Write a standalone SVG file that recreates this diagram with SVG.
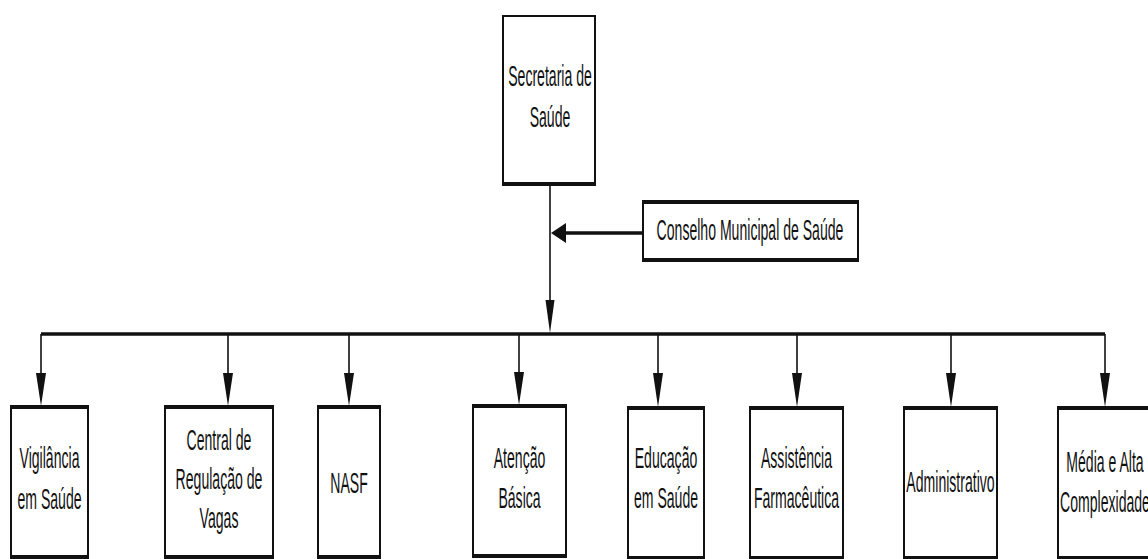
<svg xmlns="http://www.w3.org/2000/svg" width="1148" height="559" viewBox="0 0 1148 559">
<style>
.box{fill:#fff;stroke:#111;stroke-width:2}
.edge{stroke:#111;stroke-width:4;fill:none}
.t{font-family:"Liberation Sans",Arial,sans-serif;font-size:29px;text-anchor:middle;fill:#111}
.ln{stroke:#111;stroke-width:1.6;fill:none}
.bus{stroke:#111;stroke-width:3.5;fill:none}
.head{fill:#111}
</style>
<rect width="1148" height="559" fill="#fff"/>
<g id="connectors">
<line class="ln" x1="550" y1="184" x2="550" y2="302"/>
<polygon class="head" points="545.5,300 554.5,300 550,333"/>
<line class="bus" x1="41" y1="334" x2="1105" y2="334"/>
<line class="bus" x1="643" y1="233" x2="563" y2="233"/>
<polygon class="head" points="566,223 566,243 551,233"/>
<line class="ln" x1="41" y1="334" x2="41" y2="376"/>
<polygon class="head" points="36,373 46,373 41,406"/>
<line class="ln" x1="228" y1="334" x2="228" y2="376"/>
<polygon class="head" points="223,373 233,373 228,406"/>
<line class="ln" x1="349" y1="334" x2="349" y2="376"/>
<polygon class="head" points="344,373 354,373 349,406"/>
<line class="ln" x1="519" y1="334" x2="519" y2="376"/>
<polygon class="head" points="514,372 524,372 519,405"/>
<line class="ln" x1="658" y1="334" x2="658" y2="376"/>
<polygon class="head" points="653,373 663,373 658,407"/>
<line class="ln" x1="797" y1="334" x2="797" y2="376"/>
<polygon class="head" points="792,373 802,373 797,407"/>
<line class="ln" x1="951" y1="334" x2="951" y2="376"/>
<polygon class="head" points="946,373 956,373 951,407"/>
<line class="ln" x1="1105" y1="334" x2="1105" y2="376"/>
<polygon class="head" points="1100,373 1110,373 1105,407"/>
</g>
<g id="secretaria">
<rect class="box" x="503" y="16" width="92" height="168"/>
<line class="edge" x1="502" y1="184" x2="596" y2="184"/>
<g transform="translate(550,0) scale(0.485,1)"><text class="t" y="86"><tspan x="0">Secretaria de</tspan><tspan x="0" y="127">Saúde</tspan></text></g>
</g>
<g id="conselho">
<rect class="box" x="643" y="202" width="215" height="58"/>
<line class="edge" x1="642" y1="202" x2="859" y2="202"/>
<line class="edge" x1="642" y1="260" x2="859" y2="260"/>
<g transform="translate(750,0) scale(0.485,1)"><text class="t" y="240">Conselho Municipal de Saúde</text></g>
</g>
<g id="vigilancia">
<rect class="box" x="11" y="407" width="77" height="150"/>
<line class="edge" x1="10" y1="407" x2="89" y2="407"/>
<line class="edge" x1="10" y1="557" x2="89" y2="557"/>
<g transform="translate(49.5,0) scale(0.485,1)"><text class="t" y="468"><tspan x="0">Vigilância</tspan><tspan x="0" y="509">em Saúde</tspan></text></g>
</g>
<g id="central">
<rect class="box" x="165" y="407" width="108" height="150"/>
<line class="edge" x1="164" y1="407" x2="274" y2="407"/>
<line class="edge" x1="164" y1="557" x2="274" y2="557"/>
<g transform="translate(219,0) scale(0.485,1)"><text class="t" y="450"><tspan x="0">Central de</tspan><tspan x="0" y="489">Regulação de</tspan><tspan x="0" y="528">Vagas</tspan></text></g>
</g>
<g id="nasf">
<rect class="box" x="318" y="407" width="62" height="150"/>
<line class="edge" x1="317" y1="407" x2="381" y2="407"/>
<line class="edge" x1="317" y1="557" x2="381" y2="557"/>
<g transform="translate(349,0) scale(0.485,1)"><text class="t" y="493">NASF</text></g>
</g>
<g id="atencao">
<rect class="box" x="473" y="406" width="93" height="150"/>
<line class="edge" x1="472" y1="406" x2="567" y2="406"/>
<line class="edge" x1="472" y1="556" x2="567" y2="556"/>
<g transform="translate(519.5,0) scale(0.485,1)"><text class="t" y="468"><tspan x="0">Atenção</tspan><tspan x="0" y="508">Básica</tspan></text></g>
</g>
<g id="educacao">
<rect class="box" x="628" y="408" width="76" height="150"/>
<line class="edge" x1="627" y1="408" x2="705" y2="408"/>
<line class="edge" x1="627" y1="558" x2="705" y2="558"/>
<g transform="translate(666,0) scale(0.485,1)"><text class="t" y="468"><tspan x="0">Educação</tspan><tspan x="0" y="508">em Saúde</tspan></text></g>
</g>
<g id="assistencia">
<rect class="box" x="750" y="408" width="93" height="150"/>
<line class="edge" x1="749" y1="408" x2="844" y2="408"/>
<line class="edge" x1="749" y1="558" x2="844" y2="558"/>
<g transform="translate(796.5,0) scale(0.485,1)"><text class="t" y="468"><tspan x="0">Assistência</tspan><tspan x="0" y="508">Farmacêutica</tspan></text></g>
</g>
<g id="administrativo">
<rect class="box" x="904" y="408" width="93" height="150"/>
<line class="edge" x1="903" y1="408" x2="998" y2="408"/>
<line class="edge" x1="903" y1="558" x2="998" y2="558"/>
<g transform="translate(950.5,0) scale(0.485,1)"><text class="t" y="492">Administrativo</text></g>
</g>
<g id="media">
<rect class="box" x="1058" y="408" width="94" height="150"/>
<line class="edge" x1="1057" y1="408" x2="1153" y2="408"/>
<line class="edge" x1="1057" y1="558" x2="1153" y2="558"/>
<g transform="translate(1105,0) scale(0.485,1)"><text class="t" y="472"><tspan x="0">Média e Alta</tspan><tspan x="0" y="512">Complexidade</tspan></text></g>
</g>
</svg>
